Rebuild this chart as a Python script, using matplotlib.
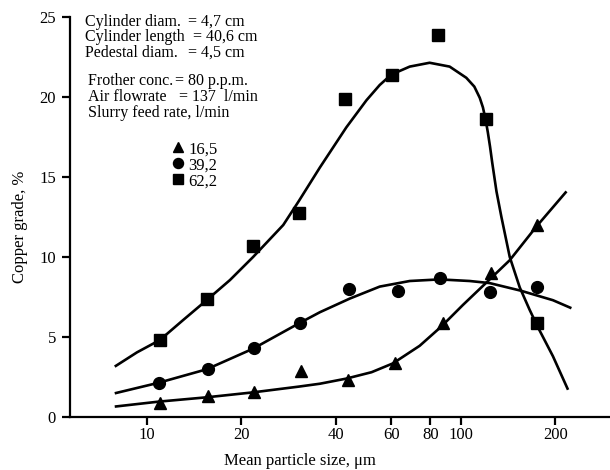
import matplotlib
matplotlib.use("Agg")
from matplotlib import pyplot as plt
from matplotlib.ticker import FixedLocator, NullLocator

plt.rcParams['font.family'] = ['Liberation Serif', 'DejaVu Serif']
plt.rcParams['font.size'] = 12

# measured points (size in micron, copper grade %)
size_sq = [11.0, 15.5, 21.8, 30.5, 42.8, 60.3, 84.6, 120, 175]
grade_sq = [4.8, 7.4, 10.7, 12.75, 19.9, 21.4, 23.9, 18.6, 5.9]

size_ci = [10.9, 15.7, 22.0, 30.7, 44.0, 63.0, 86.0, 124, 175]
grade_ci = [2.1, 3.0, 4.3, 5.85, 8.0, 7.9, 8.7, 7.8, 8.1]

size_tr = [11.0, 15.7, 22.0, 30.9, 43.6, 61.6, 87.8, 124.7, 175]
grade_tr = [0.9, 1.3, 1.55, 2.9, 2.3, 3.4, 5.9, 9.0, 12.0]

# fitted curves
curve_sq_x = [7.9, 9.3, 11.0, 13.05, 15.5, 18.4, 21.8, 27.2, 30.5, 35.6, 43.2, 50.1,
              55.2, 60.1, 68.8, 79.6, 92.2, 104.2, 110.5, 115.0, 117.7, 120.0, 122.0,
              124.0, 126.0, 130.0, 134.8, 143.3, 154.2, 165.8, 176.3, 196.7, 219.8]
curve_sq_y = [3.15, 4.04, 4.81, 6.06, 7.3, 8.56, 10.0, 12.0, 13.5, 15.6, 18.1, 19.8,
              20.75, 21.4, 21.9, 22.14, 21.9, 21.2, 20.65, 19.95, 19.35, 18.6, 17.8,
              16.9, 15.9, 14.1, 12.5, 10.0, 8.1, 6.7, 5.6, 3.8, 1.7]

curve_ci_x = [7.9, 10.9, 15.5, 21.8, 30.5, 35.6, 44.3, 55.2, 68.8, 85.7,
              106.8, 123.6, 155.0, 196.7, 225.3]
curve_ci_y = [1.48, 2.14, 2.98, 4.27, 5.85, 6.55, 7.4, 8.15, 8.5, 8.6,
              8.5, 8.37, 7.9, 7.3, 6.8]

curve_tr_x = [7.9, 10.9, 15.5, 21.8, 30.5, 35.6, 43.2, 52.0, 60.8, 74.0, 86.7,
              101.6, 120.7, 143.3, 174.2, 217.3]
curve_tr_y = [0.65, 0.96, 1.23, 1.54, 1.9, 2.08, 2.4, 2.8, 3.35, 4.45, 5.65,
              7.0, 8.4, 9.8, 11.9, 14.1]

xticks = [10, 20, 40, 60, 80, 100, 200]
yticks = [0, 5, 10, 15, 20, 25]

fig = plt.figure(figsize=(6.1, 4.7), dpi=100)
ax = fig.add_axes([70/610, 53/470, 540/610, 400/470])

lw = 1.9
for cx, cy in [(curve_sq_x, curve_sq_y), (curve_ci_x, curve_ci_y), (curve_tr_x, curve_tr_y)]:
    ax.plot(cx, cy, color='black', lw=lw, solid_capstyle='butt', solid_joinstyle='round')

h_tr, = ax.plot(size_tr, grade_tr, '^', color='black', ms=8, ls='none', label='16,5')
h_ci, = ax.plot(size_ci, grade_ci, 'o', color='black', ms=8.5, ls='none', label='39,2')
h_sq, = ax.plot(size_sq, grade_sq, 's', color='black', ms=8.5, ls='none', label='62,2')

ax.set_xscale('log')
ax.set_xlim(5.69, 299)
ax.set_ylim(0, 25)
ax.xaxis.set_major_locator(FixedLocator(xticks))
ax.xaxis.set_minor_locator(NullLocator())
ax.set_xticklabels([str(t) for t in xticks])
ax.set_yticks(yticks)
ax.set_yticklabels([str(t) for t in yticks])

for s in ['top', 'right']:
    ax.spines[s].set_visible(False)
for s in ['left', 'bottom']:
    ax.spines[s].set_linewidth(1.6)
ax.tick_params(direction='out', length=6, width=1.6, labelsize=12)
ax.tick_params(axis='x', pad=1)
ax.tick_params(axis='y', pad=4)

fig.text(300/610, 1 - 461/470, 'Mean particle size, μm', ha='center', va='center', fontsize=12)
fig.text(20/610, 1 - 227/470, 'Copper grade, %', rotation=90, ha='center', va='center', fontsize=12)

# parameter block
def px(x, y):
    return x / 610, 1 - y / 470

fs = 11.5
rows1 = [('Cylinder diam.', '= 4,7 cm', 188, 26),
         ('Cylinder length', '= 40,6 cm', 193, 41),
         ('Pedestal diam.', '= 4,5 cm', 188, 57)]
for left, right, xr, yb in rows1:
    fig.text(*px(85, yb), left, va='baseline', fontsize=fs)
    fig.text(*px(xr, yb), right, va='baseline', fontsize=fs)

rows2 = [('Frother conc.', '= 80 p.p.m.', 175, 85),
         ('Air flowrate', '= 137  l/min', 179, 101)]
for left, right, xr, yb in rows2:
    fig.text(*px(88, yb), left, va='baseline', fontsize=fs)
    fig.text(*px(xr, yb), right, va='baseline', fontsize=fs)
fig.text(*px(88, 117), 'Slurry feed rate, l/min', va='baseline', fontsize=fs)

ax.legend(handles=[h_tr, h_ci, h_sq], loc='upper left',
          bbox_to_anchor=(95/540, (417 - 133)/400), frameon=False,
          borderpad=0, handlelength=0.6, handletextpad=0.3,
          labelspacing=0.0, markerscale=0.85, fontsize=12)

plt.savefig('out.png', dpi=100)
